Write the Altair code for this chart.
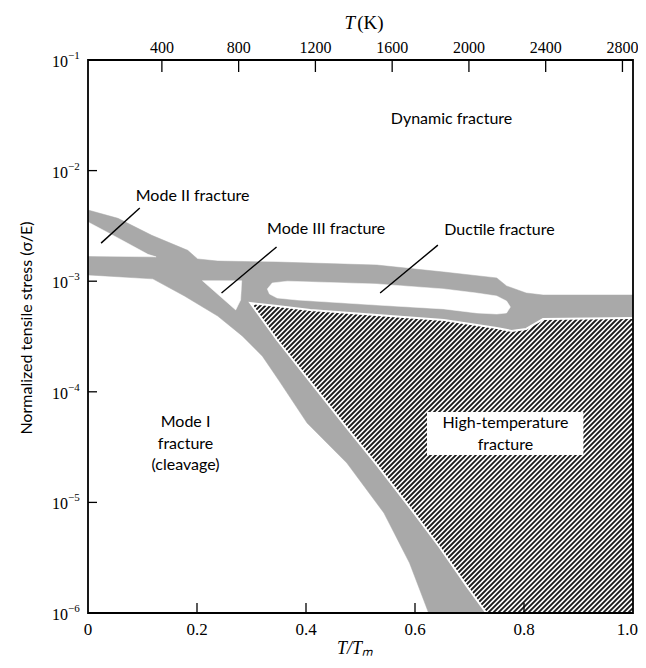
import numpy as np
import pandas as pd
import altair as alt

# ---------------- data read from the map ----------------
# upper edge of the grey boundary band system (left -> right)
band_top_x = [0.0, 0.055, 0.117, 0.183, 0.201, 0.238, 0.347, 0.530, 0.653, 0.750, 0.768, 0.804, 0.835, 1.0]
band_top_y = [4.4e-3, 3.7e-3, 2.6e-3, 1.9e-3, 1.59e-3, 1.52e-3, 1.49e-3, 1.40e-3, 1.21e-3, 1.07e-3, 9.06e-4, 7.82e-4, 7.50e-4, 7.50e-4]

# top edge of the high-temperature (hatched) field (left -> right)
hatch_top_x = [0.298, 0.347, 0.408, 0.530, 0.653, 0.750, 0.777, 0.804, 0.835, 1.0]
hatch_top_y = [6.35e-4, 5.97e-4, 5.50e-4, 4.95e-4, 4.46e-4, 3.78e-4, 3.55e-4, 3.70e-4, 4.55e-4, 4.65e-4]

# left edge of the high-temperature field (top -> bottom)
hatch_left_x = [0.298, 0.347, 0.408, 0.475, 0.530, 0.590, 0.645, 0.695, 0.731]
hatch_left_y = [6.35e-4, 2.94e-4, 1.23e-4, 4.71e-5, 2.18e-5, 9.08e-6, 3.95e-6, 1.75e-6, 1.0e-6]

# upper edge of the Mode I (cleavage) field (left -> bottom)
mode1_x = [0.0, 0.119, 0.177, 0.238, 0.283, 0.320, 0.351, 0.402, 0.475, 0.543, 0.590, 0.625]
mode1_y = [1.14e-3, 1.05e-3, 7.35e-4, 4.84e-4, 3.20e-4, 2.10e-4, 1.25e-4, 5.22e-5, 2.27e-5, 8.02e-6, 2.83e-6, 1.0e-6]

# white fields enclosed by the band
mode2_x = [0.0, 0.055, 0.110, 0.125, 0.0]
mode2_y = [3.43e-3, 2.46e-3, 1.75e-3, 1.66e-3, 1.69e-3]

mode3_x = [0.210, 0.282, 0.280, 0.271]
mode3_y = [1.01e-3, 1.01e-3, 6.76e-4, 5.50e-4]

lens_x = [0.329, 0.338, 0.366, 0.530, 0.653, 0.713, 0.750, 0.768, 0.775, 0.768, 0.750, 0.713, 0.653, 0.530, 0.384, 0.347, 0.333]
lens_y = [8.51e-4, 9.64e-4, 1.00e-3, 9.44e-4, 8.51e-4, 7.82e-4, 7.35e-4, 6.62e-4, 5.85e-4, 5.16e-4, 5.05e-4, 5.16e-4, 5.61e-4, 6.09e-4, 6.76e-4, 7.05e-4, 7.66e-4]

# labels (y = first line of each label)
label_text = ["Dynamic fracture", "Mode II fracture", "Mode III fracture", "Ductile fracture",
              "Mode I\nfracture\n(cleavage)", "High-temperature\nfracture"]
label_x = [0.667, 0.192, 0.437, 0.755, 0.179, 0.766]
label_y = [2.93e-2, 5.89e-3, 2.97e-3, 2.90e-3, 5.33e-5, 5.22e-5]

# white box behind the high-temperature label
box_x = [0.622, 0.909]
box_y = [2.68e-5, 6.56e-5]

# leader lines
ptr_x1 = [0.095, 0.346, 0.642]
ptr_y1 = [4.59e-3, 2.04e-3, 2.12e-3]
ptr_x2 = [0.024, 0.245, 0.536]
ptr_y2 = [2.21e-3, 7.82e-4, 7.82e-4]

# axes
x_ticks = [0.0, 0.2, 0.4, 0.6, 0.8, 1.0]
x_tick_labels = ["0", "0.2", "0.4", "0.6", "0.8", "1.0"]
y_ticks = [1e-6, 1e-5, 1e-4, 1e-3, 1e-2, 1e-1]
y_tick_base = ["10", "10", "10", "10", "10", "10"]
y_tick_exp = ["−6", "−5", "−4", "−3", "−2", "−1"]
T_ticks = [400, 800, 1200, 1600, 2000, 2400, 2800]
T_at_left, T_at_right = 15, 2855   # temperature at T/Tm = 0 and 1 on the top axis
x_title = "T/Tₘ"
y_title = "Normalized tensile stress (σ/E)"

# ---------------- geometry helpers ----------------
W, H = 545, 553

env_x = band_top_x + hatch_top_x[::-1] + hatch_left_x[1:] + mode1_x[::-1]
env_y = band_top_y + hatch_top_y[::-1] + hatch_left_y[1:] + mode1_y[::-1]
env_df = pd.DataFrame({"x": env_x, "y": env_y, "i": range(len(env_x))})

hp_x = hatch_top_x + [1.0] + hatch_left_x[::-1][:-1]
hp_y = hatch_top_y + [1.0e-6] + hatch_left_y[::-1][:-1]

holes = []
for name, xs_, ys_ in [("m2", mode2_x, mode2_y), ("m3", mode3_x, mode3_y), ("lens", lens_x, lens_y)]:
    for i, (a, b) in enumerate(zip(xs_, ys_)):
        holes.append({"poly": name, "x": a, "y": b, "i": i})
holes_df = pd.DataFrame(holes)

gap_x = hatch_left_x[::-1] + hatch_top_x[1:]
gap_y = hatch_left_y[::-1] + hatch_top_y[1:]
gap_df = pd.DataFrame({"x": gap_x, "y": gap_y, "i": range(len(gap_x))})


def to_uv(x, y):
    return np.asarray(x, float) * W, (np.log10(np.asarray(y, float)) + 6) / 5 * H


pu, pv = to_uv(hp_x, hp_y)


def inside(u, v):
    res = np.zeros(u.shape, bool)
    n = len(pu)
    j = n - 1
    for i in range(n):
        ui, vi, uj, vj = pu[i], pv[i], pu[j], pv[j]
        cond = ((vi > v) != (vj > v)) & (u < (uj - ui) * (v - vi) / (vj - vi + 1e-12) + ui)
        res ^= cond
        j = i
    return res


segs = []
spacing = 5.0
for c in np.arange(-W, H, spacing):
    t = np.arange(0, W + 0.25, 0.25)
    v = t + c
    ok = (v >= 0) & (v <= H)
    t, v = t[ok], v[ok]
    if len(t) == 0:
        continue
    m = inside(t, v)
    if not m.any():
        continue
    d = np.diff(np.concatenate([[0], m.astype(int), [0]]))
    starts = np.where(d == 1)[0]
    ends = np.where(d == -1)[0] - 1
    for s, e in zip(starts, ends):
        if e <= s:
            continue
        segs.append({"x": t[s] / W, "y": 10 ** (v[s] / H * 5 - 6),
                     "x2": t[e] / W, "y2": 10 ** (v[e] / H * 5 - 6)})
seg_df = pd.DataFrame(segs)

# ---------------- chart ----------------
xs = alt.Scale(domain=[0, 1], nice=False, zero=False)
ys = alt.Scale(type="log", domain=[1e-6, 1e-1], nice=False)
SERIF = "Liberation Serif"
SANS = "Lato"


def X(f):
    return alt.X(f, scale=xs, axis=None)


def Y(f):
    return alt.Y(f, scale=ys, axis=None)


hatch = alt.Chart(seg_df).mark_rule(color="#1a1a1a", strokeWidth=1.8, clip=True).encode(
    x=X("x:Q"), x2="x2:Q", y=Y("y:Q"), y2="y2:Q")

envelope = alt.Chart(env_df).mark_line(
    fill="#a9a9a9", stroke="#a9a9a9", strokeWidth=0.5, interpolate="linear-closed", clip=True
).encode(x=X("x:Q"), y=Y("y:Q"), order="i:Q")

hole_layer = alt.Chart(holes_df).mark_line(
    fill="white", stroke="white", strokeWidth=0.5, interpolate="linear-closed", clip=True
).encode(x=X("x:Q"), y=Y("y:Q"), detail="poly:N", order="i:Q")

gap_layer = alt.Chart(gap_df).mark_line(stroke="white", strokeWidth=2, clip=True).encode(
    x=X("x:Q"), y=Y("y:Q"), order="i:Q")

ptr_df = pd.DataFrame({"x": ptr_x1, "y": ptr_y1, "x2": ptr_x2, "y2": ptr_y2})
pointers = alt.Chart(ptr_df).mark_rule(color="black", strokeWidth=1.4).encode(
    x=X("x:Q"), y=Y("y:Q"), x2="x2:Q", y2="y2:Q")

box_df = pd.DataFrame({"x": [box_x[0]], "x2": [box_x[1]], "y": [box_y[0]], "y2": [box_y[1]]})
box = alt.Chart(box_df).mark_rect(fill="white").encode(
    x=X("x:Q"), x2="x2:Q", y=Y("y:Q"), y2="y2:Q")

lab_df = pd.DataFrame({"t": label_text, "x": label_x, "y": label_y})
labels = alt.Chart(lab_df).mark_text(
    font=SANS, fontSize=16, color="black", lineBreak="\n", lineHeight=21.5, baseline="middle", align="center"
).encode(x=X("x:Q"), y=Y("y:Q"), text="t:N")

# left axis: inward ticks + labels (10 with raised exponent) + title
ytk = alt.Chart(pd.DataFrame({"y": y_ticks[1:-1]})).mark_rule(color="black", strokeWidth=1.3).encode(
    y=Y("y:Q"), x=alt.value(0), x2=alt.value(9))
ylab_df = pd.DataFrame({"y": y_ticks, "b": y_tick_base, "e": y_tick_exp})
ylab = alt.Chart(ylab_df).mark_text(
    font=SERIF, fontSize=16, color="black", align="right", baseline="middle", dx=-20, dy=2
).encode(y=Y("y:Q"), x=alt.value(0), text="b:N")
yexp = alt.Chart(ylab_df).mark_text(
    font=SERIF, fontSize=11, color="black", align="left", baseline="middle", dx=-20, dy=-4
).encode(y=Y("y:Q"), x=alt.value(0), text="e:N")
yttl = alt.Chart(pd.DataFrame({"t": [y_title]})).mark_text(
    font=SANS, fontSize=16, color="black", angle=270, align="center", baseline="middle"
).encode(x=alt.value(-61), y=alt.value(268), text="t:N")

# bottom axis
xlab_df = pd.DataFrame({"x": x_ticks, "t": x_tick_labels})
xtk = alt.Chart(pd.DataFrame({"x": x_ticks[1:-1]})).mark_rule(color="black", strokeWidth=1.3).encode(
    x=X("x:Q"), y=alt.value(H), y2=alt.value(H - 10))
xlab = alt.Chart(xlab_df.iloc[:-1]).mark_text(
    font=SERIF, fontSize=17, color="black", align="center", baseline="middle"
).encode(x=X("x:Q"), y=alt.value(H + 17), text="t:N")
xlab_end = alt.Chart(xlab_df.iloc[[-1]]).mark_text(
    font=SERIF, fontSize=17, color="black", align="right", baseline="middle", dx=5
).encode(x=X("x:Q"), y=alt.value(H + 17), text="t:N")
xttl = alt.Chart(pd.DataFrame({"t": [x_title], "x": [0.49]})).mark_text(
    font=SERIF, fontSize=18, fontStyle="italic", color="black", align="center", baseline="middle"
).encode(x=X("x:Q"), y=alt.value(H + 36), text="t:N")

# top temperature axis: T converted to T/Tm position through a calculate transform
T_df = pd.DataFrame({"T": T_ticks})
T_pos = f"(datum.T - {T_at_left}) / ({T_at_right} - {T_at_left})"
ttk = alt.Chart(T_df).transform_calculate(p=T_pos).mark_rule(color="black", strokeWidth=1.3).encode(
    x=X("p:Q"), y=alt.value(0), y2=alt.value(12))
tlab = alt.Chart(T_df).transform_calculate(p=T_pos).mark_text(
    font=SERIF, fontSize=16, color="black", baseline="middle", align="center"
).encode(x=X("p:Q"), y=alt.value(-12), text="T:N")

ttl_df = pd.DataFrame({"t": ["T", "(K)"], "p": [0.492, 0.492]})
ttl_T = alt.Chart(ttl_df.iloc[[0]]).mark_text(
    font=SERIF, fontSize=19, fontStyle="italic", color="black", baseline="middle", align="right", dx=-1
).encode(x=X("p:Q"), y=alt.value(-37), text="t:N")
ttl_K = alt.Chart(ttl_df.iloc[[1]]).mark_text(
    font=SERIF, fontSize=19, color="black", baseline="middle", align="left", dx=1
).encode(x=X("p:Q"), y=alt.value(-37), text="t:N")

frame = alt.Chart(pd.DataFrame({"a": [0]})).mark_rect(filled=False, stroke="black", strokeWidth=1.8).encode(
    x=alt.X(datum=0, scale=xs, axis=None), x2=alt.X2(datum=1),
    y=alt.Y(datum=1e-6, scale=ys, axis=None), y2=alt.Y2(datum=1e-1))

chart = alt.layer(
    hatch, envelope, hole_layer, gap_layer, pointers, box, labels,
    ytk, ylab, yexp, yttl, xtk, xlab, xlab_end, xttl, ttk, tlab, ttl_T, ttl_K, frame
).properties(
    width=W, height=H,
    autosize=alt.AutoSizeParams(type="none"),
    padding={"left": 80, "top": 52, "right": 5, "bottom": 47},
).configure_view(stroke=None)

chart.save("out.html", embed_options={"renderer": "svg", "actions": False})
